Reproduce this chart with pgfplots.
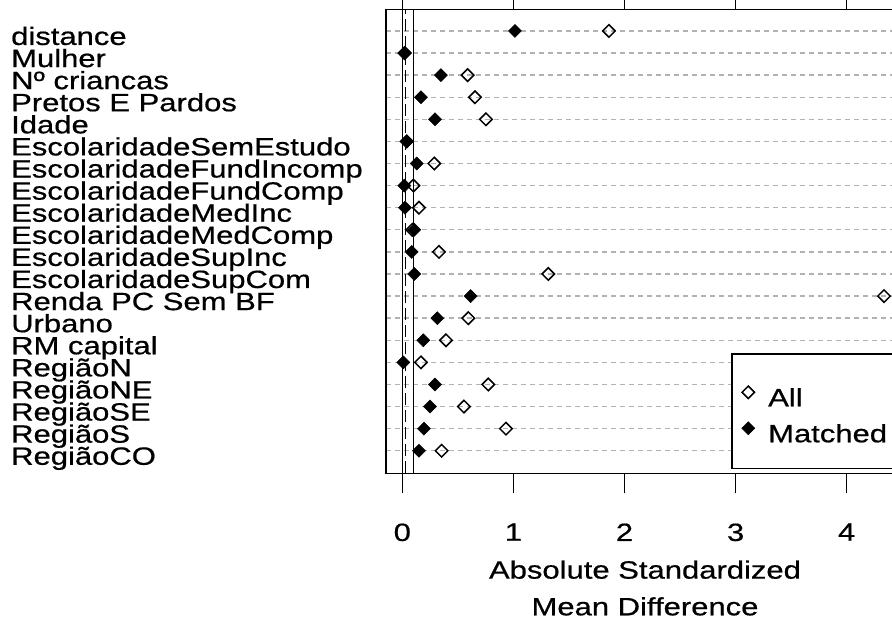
\documentclass[border=0pt]{standalone}
\usepackage{fontspec}
\setmainfont[FakeStretch=1.24,FakeBold=0.6]{Liberation Sans}
\usepackage{pgfplots}
\pgfplotsset{compat=1.18}
\pgfplotstableread{
x y
1.86 20
0.02 19
0.588 18
0.654 17
0.753 16
0.04 15
0.288 14
0.10 13
0.15 12
0.09 11
0.33 10
1.314 9
4.336 8
0.594 7
0.393 6
0.168 5
0.774 4
0.555 3
0.933 2
0.354 1
}\allpts
\pgfplotstableread{
x y
1.014 20
0.024 19
0.348 18
0.168 17
0.294 16
0.04 15
0.13 14
0.018 13
0.024 12
0.108 11
0.085 10
0.108 9
0.615 8
0.315 7
0.189 6
0.009 5
0.294 4
0.249 3
0.195 2
0.15 1
}\matchedpts
\begin{document}
\fontsize{25}{36.7}\selectfont
\begin{tikzpicture}[x=1pt,y=1pt]
\begin{axis}[
 at={(386pt,147.7pt)}, anchor=south west,
 scale only axis, width=518pt, height=463.8pt,
 xmin=-0.1467, xmax=4.516, ymin=-0.02, ymax=20.97,
 axis line style={line width=1.5pt},
 xtick={0,1,2,3,4}, tick align=outside, major tick length=20pt,
 xtick style={line width=1.3pt, black},
 ytick={1,...,20},
 yticklabels={RegiãoCO,RegiãoS,RegiãoSE,RegiãoNE,RegiãoN,RM capital,Urbano,Renda PC Sem BF,EscolaridadeSupCom,EscolaridadeSupInc,EscolaridadeMedComp,EscolaridadeMedInc,EscolaridadeFundComp,EscolaridadeFundIncomp,EscolaridadeSemEstudo,Idade,Pretos E Pardos,Nº criancas,Mulher,distance},
 ytick style={draw=none},
 yticklabel style={anchor=base west, inner sep=0pt, xshift=-355pt, yshift=-14pt},
 xticklabel style={anchor=north, inner sep=0pt, yshift=-30pt},
 /pgf/number format/assume math mode=true,
 ymajorgrids, grid style={gray!60, line width=1.4pt, dash pattern=on 5pt off 4pt},
 xlabel={Absolute Standardized\\Mean Difference},
 xlabel style={align=center, anchor=north, inner sep=0pt, at={(axis description cs:0.5,0)}, yshift=-87pt},
 legend image code/.code={\draw[mark repeat=2,mark phase=2,#1] plot coordinates {(0pt,14pt) (6pt,14pt) (12pt,14pt)};},
 legend style={at={(axis cs:2.959,5.41)}, anchor=north west, draw=black, line width=1.5pt,
   inner xsep=10pt, inner ysep=24.2pt, row sep=6pt, column sep=13.4pt,
   nodes={inner sep=0pt, anchor=base west, text height=28pt, text depth=2pt}},
]
\addplot[black, line width=1.4pt, forget plot] coordinates {(0,-0.02) (0,20.97)};
\addplot[black, line width=1.4pt, dash pattern=on 12pt off 5pt, forget plot] coordinates {(0.03,-0.02) (0.03,20.97)};
\addplot[black, line width=1.4pt, forget plot] coordinates {(0.1,-0.02) (0.1,20.97)};
\addplot[only marks, mark=square, mark size=4.4pt, mark options={rotate=45, draw=black, fill=white, line width=1.5pt}] table[x=x,y=y] {\allpts};
\addlegendentry{All}
\addplot[only marks, mark=square*, mark size=4.6pt, mark options={rotate=45, draw=black, fill=black, line width=0.5pt}] table[x=x,y=y] {\matchedpts};
\addlegendentry{Matched}
\end{axis}
\pgfresetboundingbox
\path (0,0) rectangle (892,621);
\end{tikzpicture}
\end{document}
